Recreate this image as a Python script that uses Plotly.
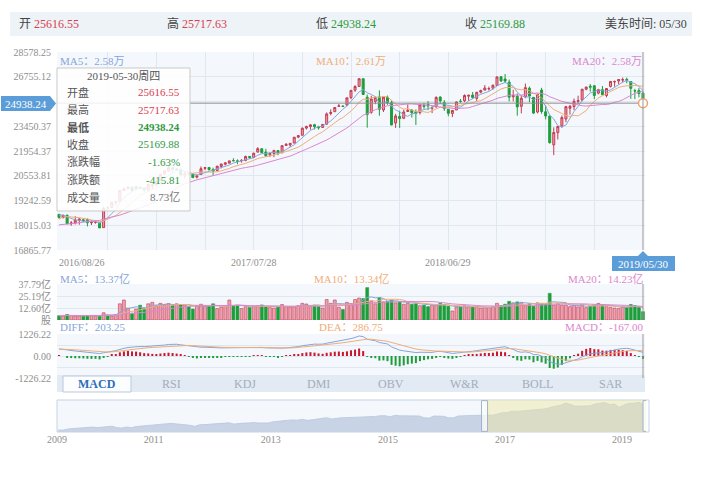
import math
import pandas as pd
import plotly.graph_objects as go

W, H = 704, 502


def px(x):
    return x / W


def py(y):
    return 1 - y / H


# weekly K line, 2016-08-26 .. 2019-05-30 (145 weeks)
week_open = [18546, 18382, 18497, 18086, 18124, 18262, 18279, 18282, 18140, 18160,
             18120, 17900, 18870, 18890, 19150, 19180, 19758, 19853, 19925, 19872,
             19931, 19882, 19794, 20028, 20052, 20280, 20662, 20812, 20990, 20903,
             20905, 20550, 20665, 20638, 20480, 20620, 20962, 21012, 20899, 20844,
             21070, 21195, 21256, 21400, 21390, 21392, 21412, 21640, 21580, 21890,
             22083, 21890, 21736, 21813, 21981, 21850, 22281, 22310, 22424, 22780,
             22897, 23335, 23435, 23548, 23416, 23375, 23579, 24263, 24377, 24738,
             24746, 24809, 25309, 25817, 26071, 26616, 25337, 24337, 25060, 25355,
             24491, 25342, 24970, 23650, 24076, 23952, 24390, 24482, 24373, 24317,
             24806, 24858, 24606, 24692, 25345, 24977, 24530, 24263, 24489, 25061,
             25096, 25405, 25483, 25260, 25680, 25819, 25907, 25950, 26141, 26763,
             26598, 26373, 25367, 25408, 24729, 25365, 25949, 25326, 24355, 25827,
             24374, 24093, 22317, 23058, 23474, 23909, 24597, 24713, 25062, 25149,
             25882, 26091, 26122, 25612, 25851, 25456, 26076, 26393, 26451, 26529,
             26567, 26419, 25765, 25791, 25616.55]
week_high = [18565, 18532, 18537, 18220, 18450, 18365, 18333, 18346, 18250, 18250,
             18150, 18934, 18935, 19153, 19225, 19774, 19911, 19987, 19980, 19999,
             19974, 19915, 20125, 20080, 20298, 20646, 20840, 21169, 21000, 21000,
             20955, 20756, 20777, 20690, 20631, 21071, 21034, 21012, 21000, 21112,
             21225, 21305, 21392, 21536, 21470, 21480, 21681, 21640, 21843, 22179,
             22125, 22085, 21875, 22022, 21988, 22275, 22419, 22405, 22777, 22905,
             23368, 23485, 23557, 23602, 23480, 23602, 24327, 24534, 24669, 24876,
             24792, 25299, 25804, 26153, 26617, 26617, 25520, 25432, 25384, 25800,
             25352, 25449, 25139, 24237, 24437, 24508, 24858, 24541, 24525, 24895,
             24948, 25086, 24766, 25402, 25403, 25150, 24539, 24484, 25046, 25215,
             25528, 25506, 25692, 25700, 25852, 26167, 26062, 26209, 26769, 26769,
             26952, 26554, 25845, 25589, 25457, 26277, 26067, 25335, 25560, 25980,
             24801, 24122, 23382, 23468, 24134, 24757, 24829, 25245, 25439, 25883,
             26052, 26241, 26156, 25911, 26109, 25949, 26425, 26487, 26596, 26696,
             26695, 26419, 25906, 25965, 25717.63]
week_low = [18335, 18355, 18085, 17992, 18052, 18040, 18170, 17960, 18030, 18090,
            17884, 17900, 18800, 18870, 19002, 19170, 19743, 19850, 19718, 19775,
            19838, 19677, 19732, 19832, 20000, 20267, 20600, 20780, 20810, 20822,
            20570, 20412, 20546, 20453, 20404, 20620, 20863, 20830, 20553, 20790,
            20960, 21123, 21230, 21360, 21197, 21280, 21360, 21500, 21560, 21876,
            21843, 21600, 21611, 21600, 21709, 21850, 22260, 22200, 22416, 22718,
            22886, 23242, 23242, 23251, 23242, 23362, 23555, 24140, 24374, 24701,
            24699, 24741, 25203, 25695, 26058, 25490, 23360, 24241, 24868, 24117,
            24355, 24831, 23509, 23345, 23344, 23903, 24390, 23996, 23531, 24197,
            24563, 24475, 24285, 24646, 24876, 24426, 24084, 24026, 24489, 24960,
            25002, 25099, 25222, 25089, 25600, 25819, 25790, 25852, 26104, 26383,
            26317, 25052, 25050, 24122, 24268, 25265, 25001, 24235, 24268, 24242,
            23881, 22397, 21713, 22638, 23351, 23706, 24188, 24476, 24883, 25065,
            25809, 25714, 25208, 25532, 25490, 25323, 25998, 26066, 26216, 26343,
            26296, 25222, 25208, 25328, 24938.24]
week_close = [18395, 18492, 18085, 18124, 18261, 18308, 18240, 18138, 18145, 18161,
              17888, 18847, 18868, 19152, 19171, 19757, 19843, 19934, 19763, 19964,
              19886, 19827, 20094, 20071, 20269, 20624, 20822, 21005, 20903, 20915,
              20597, 20663, 20656, 20453, 20548, 20941, 21007, 20897, 20805, 21080,
              21206, 21272, 21384, 21395, 21350, 21414, 21638, 21580, 21830, 22092,
              21858, 21675, 21814, 21988, 21798, 22268, 22350, 22405, 22774, 22871,
              23329, 23434, 23539, 23422, 23358, 23558, 24232, 24329, 24652, 24754,
              24719, 25296, 25803, 26072, 26617, 25521, 24191, 25219, 25310, 24538,
              25336, 24946, 23533, 24103, 23933, 24360, 24463, 24311, 24263, 24831,
              24715, 24753, 24635, 25317, 25090, 24581, 24271, 24456, 25019, 25058,
              25451, 25463, 25313, 25669, 25790, 25965, 25917, 26155, 26744, 26458,
              26447, 25340, 25444, 24689, 25271, 25989, 25413, 24286, 25538, 24389,
              24101, 22445, 23062, 23433, 23996, 24706, 24737, 25064, 25106, 25883,
              26031, 26026, 25450, 25849, 25502, 25929, 26425, 26412, 26559, 26543,
              26505, 25942, 25764, 25586, 25169.88]
# weekly volume, 亿股
week_vol = [4.5, 4.1, 5.8, 4.6, 4.3, 4.4, 4.0, 4.3, 4.5, 4.1,
            4.8, 7.6, 5.3, 4.0, 5.6, 17.0, 21.0, 12.5, 7.3, 11.5,
            15.5, 12.8, 17.0, 18.5, 15.0, 17.5, 16.0, 17.2, 15.5, 17.0,
            15.8, 16.0, 14.0, 11.5, 15.2, 16.5, 15.0, 14.5, 17.0, 12.0,
            13.5, 15.0, 21.0, 14.5, 15.0, 12.0, 14.0, 13.2, 14.5, 15.0,
            15.8, 14.2, 13.0, 12.5, 13.6, 16.2, 14.0, 13.5, 14.0, 15.0,
            17.5, 16.8, 15.0, 15.5, 14.2, 12.5, 21.5, 17.5, 21.0, 13.5,
            11.0, 18.5, 17.2, 21.5, 23.0, 22.5, 34.0, 20.0, 17.0, 23.5,
            19.0, 19.5, 21.0, 18.0, 19.5, 16.5, 17.5, 16.5, 17.0, 15.0,
            15.5, 14.0, 16.0, 15.5, 17.5, 16.0, 14.5, 9.5, 13.5, 14.0,
            15.0, 14.5, 13.5, 14.0, 12.5, 13.0, 13.0, 14.0, 17.5, 15.0,
            16.5, 19.5, 18.0, 19.0, 18.5, 15.0, 17.0, 14.5, 18.0, 17.5,
            16.5, 28.0, 15.5, 17.0, 15.5, 15.4, 14.0, 15.2, 13.8, 16.0,
            13.0, 14.4, 15.9, 17.4, 16.1, 14.6, 13.2, 12.6, 12.0, 14.2,
            13.5, 16.3, 15.1, 13.2, 8.73]
# weeks before 2016-08-26, only used to warm up MA / MACD
warmup_close = [16346, 15988, 16093, 16466, 16205, 15974, 16392, 16640, 17006, 17213,
                17602, 17516, 17793, 17577, 17897, 18003, 17774, 17740, 17535, 17501,
                17873, 17807, 17865, 17675, 17400, 17949, 18147, 18517, 18571, 18432,
                18544, 18576, 18553]
# monthly closes for the overview strip, 2009-05 .. 2019-05
nav_close = [8500, 8447, 9172, 9496, 9712, 9713, 10345, 10428,
             10067, 10325, 10857, 11009, 10137, 9774, 10466, 10015, 10788, 11118, 11006, 11578,
             11892, 12226, 12320, 12811, 12570, 12414, 12143, 11614, 10913, 11955, 12046, 12218,
             12633, 12952, 13212, 13214, 12393, 12880, 13009, 13091, 13437, 13096, 13026, 13104,
             13861, 14054, 14579, 14840, 15116, 14910, 15500, 14810, 15130, 15546, 16086, 16577,
             15699, 16322, 16458, 16581, 16717, 16827, 16563, 17098, 17043, 17391, 17828, 17823,
             17165, 18133, 17776, 17841, 18011, 17620, 17690, 16528, 16285, 17664, 17720, 17425,
             16466, 16517, 17685, 17774, 17787, 17930, 18432, 18401, 18308, 18142, 19124, 19763,
             19864, 20812, 20663, 20941, 21009, 21350, 21891, 21948, 22405, 23377, 24272, 24719,
             26149, 25029, 24103, 24163, 24416, 24271, 25415, 25965, 26458, 25116, 25538, 23327,
             24999, 25916, 25929, 26593, 25170]

price_ticks = [16865.77, 18015.03, 19242.59, 20553.81, 21954.37, 23450.37, 25048.31, 26755.12, 28578.25]
vol_ticks = [0, 12.60, 25.19, 37.79]
vol_ticktext = ["股", "12.60亿", "25.19亿", "37.79亿"]
macd_max = 1226.22
date_labels = ["2016/08/26", "2017/07/28", "2018/06/29", "2019/05/30"]
date_label_idx = [0, 48, 96, 144]
nav_years = ["2009-05-08", "2011-01-01", "2013-01-01", "2015-01-01", "2017-01-01", "2019-01-01"]
nav_year_text = ["2009", "2011", "2013", "2015", "2017", "2019"]
tabs = ["MACD", "RSI", "KDJ", "DMI", "OBV", "W&R", "BOLL", "SAR"]
tab_x = [97, 171, 245, 318, 391, 464, 537, 610]

RED_LINE = "#c43a4f"
RED_FILL = "#eda1b1"
GREEN = "#1f9d3c"
RED_TXT = "#d9404d"
GREEN_TXT = "#2f9a3f"
C_MA5 = "#86a5db"
C_MA10 = "#f1ad78"
C_MA20 = "#dc86cf"
BLUE_BOX = "#5b9dd9"

x = list(range(len(week_close)))
n0 = len(warmup_close)
closes = pd.Series(warmup_close + week_close)
ma5 = closes.rolling(5, min_periods=1).mean().iloc[n0:].tolist()
ma10 = closes.rolling(10, min_periods=1).mean().iloc[n0:].tolist()
ma20 = closes.rolling(20, min_periods=1).mean().iloc[n0:].tolist()

dif_all = closes.ewm(span=12, adjust=False).mean() - closes.ewm(span=26, adjust=False).mean()
dea_all = dif_all.ewm(span=9, adjust=False).mean()
dif = dif_all.iloc[n0:].tolist()
dea = dea_all.iloc[n0:].tolist()
macd = [2 * (a - b) for a, b in zip(dif, dea)]

vol = pd.Series(week_vol)
vma5 = vol.rolling(5, min_periods=1).mean().tolist()
vma10 = vol.rolling(10, min_periods=1).mean().tolist()
vma20 = vol.rolling(20, min_periods=1).mean().tolist()

up = [c >= o for o, c in zip(week_open, week_close)]

fig = go.Figure()

# main K line
fig.add_trace(go.Candlestick(
    x=x, open=week_open, high=week_high, low=week_low, close=week_close,
    increasing=dict(line=dict(color=RED_LINE, width=1), fillcolor=RED_FILL),
    decreasing=dict(line=dict(color=GREEN, width=1), fillcolor=GREEN),
    whiskerwidth=0, hoverinfo="skip", showlegend=False, xaxis="x", yaxis="y"))
for ys, col in [(ma5, C_MA5), (ma10, C_MA10), (ma20, C_MA20)]:
    fig.add_trace(go.Scatter(x=x, y=ys, mode="lines", line=dict(color=col, width=1),
                             hoverinfo="skip", showlegend=False, xaxis="x", yaxis="y"))
# crosshair on the last low
fig.add_trace(go.Scatter(x=[-0.5, 144.5], y=[week_low[-1]] * 2, mode="lines",
                         line=dict(color="#8c8c8c", width=1), hoverinfo="skip",
                         showlegend=False, xaxis="x", yaxis="y"))
fig.add_trace(go.Scatter(x=[x[-1]], y=[week_low[-1]], mode="markers", cliponaxis=False,
                         marker=dict(size=9, color="white", line=dict(color="#f0a06a", width=1.5)),
                         hoverinfo="skip", showlegend=False, xaxis="x", yaxis="y"))

# volume
fig.add_trace(go.Bar(x=x, y=week_vol, width=0.72,
                     marker=dict(color=[RED_FILL if u else GREEN for u in up],
                                 line=dict(color=[RED_LINE if u else GREEN for u in up], width=0.6)),
                     hoverinfo="skip", showlegend=False, xaxis="x2", yaxis="y2"))
for ys, col in [(vma5, C_MA5), (vma10, C_MA10), (vma20, C_MA20)]:
    fig.add_trace(go.Scatter(x=x, y=ys, mode="lines", line=dict(color=col, width=1),
                             hoverinfo="skip", showlegend=False, xaxis="x2", yaxis="y2"))

# MACD
fig.add_trace(go.Bar(x=x, y=macd, width=0.5,
                     marker=dict(color=["#c8172e" if m >= 0 else "#1f9d3c" for m in macd], line=dict(width=0)),
                     hoverinfo="skip", showlegend=False, xaxis="x3", yaxis="y3"))
fig.add_trace(go.Scatter(x=x, y=dif, mode="lines", line=dict(color=C_MA5, width=1),
                         hoverinfo="skip", showlegend=False, xaxis="x3", yaxis="y3"))
fig.add_trace(go.Scatter(x=x, y=dea, mode="lines", line=dict(color=C_MA10, width=1),
                         hoverinfo="skip", showlegend=False, xaxis="x3", yaxis="y3"))

# overview strip
nav_dates = pd.date_range("2009-05-01", periods=len(nav_close), freq="MS") + pd.Timedelta(days=14)
fig.add_trace(go.Scatter(x=nav_dates, y=nav_close, mode="lines", fill="tozeroy",
                         line=dict(color="#b8c7dc", width=0.8), fillcolor="#c8d4e5",
                         hoverinfo="skip", showlegend=False, xaxis="x4", yaxis="y4"))

GRID = "#dfe7f0"
TICKF = dict(size=10, color="#8e8e8e")
xdom = [px(57), px(645)]
common_x = dict(domain=xdom, range=[-0.5, 144.5], showticklabels=False, zeroline=False,
                showline=False, fixedrange=True, automargin=False)

fig.update_layout(
    width=W, height=H, autosize=False, margin=dict(l=0, r=0, t=0, b=0, pad=0),
    paper_bgcolor="white", plot_bgcolor="#f4f8fc",
    font=dict(family="Liberation Serif, Noto Sans CJK SC, serif", size=11, color="#666"),
    hovermode=False, showlegend=False,
    xaxis=dict(common_x, anchor="y", showgrid=True, gridcolor=GRID,
               tickvals=list(range(12, 144, 12)), rangeslider=dict(visible=False)),
    yaxis=dict(domain=[py(250), py(52)], type="log", anchor="x", automargin=False,
               range=[math.log10(price_ticks[0]), math.log10(price_ticks[-1])],
               tickvals=price_ticks,
               ticktext=["" if v == 25048.31 else f"{v:.2f}" for v in price_ticks],
               tickfont=TICKF, gridcolor=GRID, zeroline=False, ticklabelstandoff=5),
    xaxis2=dict(common_x, anchor="y2", showgrid=False),
    yaxis2=dict(domain=[py(320), py(284)], anchor="x2", range=[0, vol_ticks[-1]], automargin=False,
                tickvals=vol_ticks, ticktext=vol_ticktext, tickfont=TICKF,
                gridcolor=GRID, zeroline=False, ticklabelstandoff=5),
    xaxis3=dict(common_x, anchor="y3", showgrid=False),
    yaxis3=dict(domain=[py(378), py(334)], anchor="x3", range=[-macd_max, macd_max], automargin=False,
                tickvals=[-macd_max, -macd_max / 2, 0, macd_max / 2, macd_max],
                ticktext=[f"{-macd_max:.2f}", "", "0.00", "", f"{macd_max:.2f}"],
                tickfont=TICKF, gridcolor=GRID, zeroline=False, ticklabelstandoff=5),
    xaxis4=dict(domain=[px(57), px(646)], anchor="y4", type="date", automargin=False,
                range=["2009-05-08", "2019-05-30"], tickvals=nav_years, ticktext=nav_year_text,
                tickfont=dict(size=10, color="#8e8e8e"), showgrid=False, zeroline=False,
                showline=False, ticks=""),
    yaxis4=dict(domain=[py(432), py(400)], anchor="x4", range=[7200, 28100], visible=False),
)


def path(points):
    return "M " + " L ".join(f"{px(a):.5f},{py(b):.5f}" for a, b in points) + " Z"


def rect(x0, y0, x1, y1, fill, line=None, layer="below", width=1):
    fig.add_shape(type="rect", xref="paper", yref="paper", x0=px(x0), x1=px(x1), y0=py(y1), y1=py(y0),
                  fillcolor=fill, line=dict(color=line or "rgba(0,0,0,0)", width=width if line else 0),
                  layer=layer)


def label(x0, y0, text, size=11, color="#666", anchor="left"):
    fig.add_annotation(x=px(x0), y=py(y0), xref="paper", yref="paper", text=text, showarrow=False,
                       xanchor=anchor, yanchor="middle", font=dict(size=size, color=color))


def span(text, color, bold=False):
    t = f"<b>{text}</b>" if bold else text
    return f'<span style="color:{color}">{t}</span>'


# top quote bar
rect(10, 12, 692, 36, "#eef3f8")
label(17, 24, "开 " + span("25616.55", RED_TXT), 12, "#444")
label(165, 24, "高 " + span("25717.63", RED_TXT), 12, "#444")
label(314, 24, "低 " + span("24938.24", GREEN_TXT), 12, "#444")
label(463, 24, "收 " + span("25169.88", GREEN_TXT), 12, "#444")
label(689, 24, "美东时间: 05/30", 12, "#444", "right")

# indicator captions
label(58, 61, "MA5：2.58万", 11, C_MA5)
label(351, 61, "MA10：2.61万", 11, C_MA10, "center")
label(644, 61, "MA20：2.58万", 11, C_MA20, "right")
label(58, 279, "MA5：13.37亿", 11, C_MA5)
label(351, 279, "MA10：13.34亿", 11, C_MA10, "center")
label(645, 279, "MA20：14.23亿", 11, C_MA20, "right")
label(58, 327, "DIFF：203.25", 11, C_MA5)
label(351, 327, "DEA：286.75", 11, C_MA10, "center")
label(645, 327, "MACD：-167.00", 11, C_MA20, "right")

# date labels under the K line
for i, (d, t) in enumerate(zip(date_label_idx, date_labels)):
    anchor = "left" if i == 0 else ("right" if i == len(date_labels) - 1 else "center")
    fig.add_annotation(x=d + (-0.5 if i == 0 else (2.5 if anchor == "right" else 0)), y=py(262),
                       xref="x", yref="paper", text=t, showarrow=False, xanchor=anchor,
                       yanchor="middle", font=dict(size=10, color="#8e8e8e"))

# vertical crosshair through the three panels
for y0, y1 in [(52, 250), (284, 320), (334, 378)]:
    fig.add_shape(type="line", xref="x", yref="paper", x0=x[-1], x1=x[-1], y0=py(y1), y1=py(y0),
                  line=dict(color="#9a9a9a", width=1), layer="above")

# tooltip
rect(57, 68, 190, 211, "rgba(255,255,255,0.86)", "#c9c9c9", "above")
label(123.5, 76, "2019-05-30周四", 11, "#555", "center")
rows = [("开盘", "25616.55", RED_TXT, False), ("最高", "25717.63", RED_TXT, False),
        ("最低", "24938.24", GREEN_TXT, True), ("收盘", "25169.88", GREEN_TXT, False),
        ("涨跌幅", "-1.63%", GREEN_TXT, False), ("涨跌额", "-415.81", GREEN_TXT, False),
        ("成交量", "8.73亿", "#777", False)]
for k, (name, val, col, bold) in enumerate(rows):
    yy = 92 + k * 17.5
    label(65, yy, f"<b>{name}</b>" if bold else name, 11, "#555")
    label(182, yy, f"<b>{val}</b>" if bold else val, 11, col, "right")

# crosshair value boxes
fig.add_shape(type="path", xref="paper", yref="paper", layer="above",
              path=path([(1, 96), (50, 96), (56, 103.5), (50, 111), (1, 111)]),
              fillcolor=BLUE_BOX, line=dict(width=0))
label(26, 103.5, "24938.24", 11, "white", "center")
fig.add_shape(type="path", xref="paper", yref="paper", layer="above",
              path=path([(612, 256), (638, 256), (643, 251), (648, 256), (675, 256), (675, 271), (612, 271)]),
              fillcolor=BLUE_BOX, line=dict(width=0))
label(643.5, 263.5, "2019/05/30", 11, "white", "center")

# indicator tabs
rect(57, 375, 645, 392, "#e2eaf3")
rect(63, 376, 131, 392, "#fbfdff", "#b9c9db")
for t, tx in zip(tabs, tab_x):
    if t == "MACD":
        label(tx, 384, "<b>MACD</b>", 12, "#2d6fb7", "center")
    else:
        label(tx, 384, t, 12, "#a3adb9", "center")

# overview strip frame, selected window and handles
rect(57, 400, 649, 432, "rgba(0,0,0,0)", "#c5d3e4", "above")
fig.add_shape(type="rect", xref="x4", yref="y4 domain", x0="2016-08-26", x1="2019-05-30", y0=0, y1=1,
              fillcolor="rgba(240,230,160,0.45)", line=dict(width=0), layer="above")
for d in ["2016-08-26", "2019-05-30"]:
    fig.add_shape(type="rect", xref="x4", yref="y4 domain", xsizemode="pixel", xanchor=d,
                  x0=-3, x1=3, y0=0.02, y1=0.98, fillcolor="rgba(255,255,255,0.7)",
                  line=dict(color="#9fb3ca", width=1), layer="above")

fig.write_html("out.html", config={"displayModeBar": False},
               post_script="document.body.style.margin='0';")
